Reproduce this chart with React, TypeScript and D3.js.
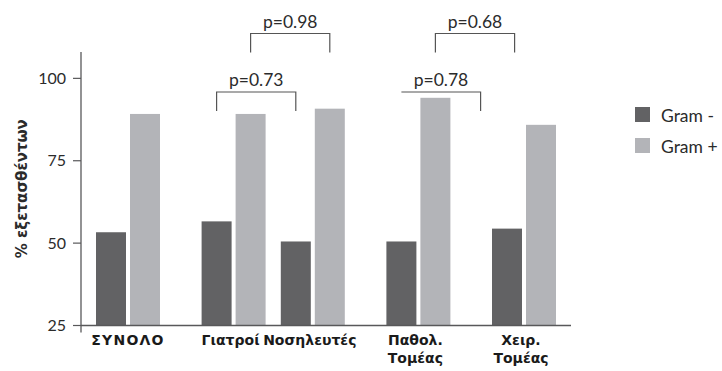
import React from 'react';
import * as d3 from 'd3';

const categories = [['ΣΥΝΟΛΟ'], ['Γιατροί'], ['Νοσηλευτές'], ['Παθολ.', 'Τομέας'], ['Χειρ.', 'Τομέας']];
const series = ['Gram -', 'Gram +'];
const gramNeg = [53.3, 56.6, 50.5, 50.5, 54.4];
const gramPos = [89.2, 89.2, 90.8, 94.1, 85.9];
const yTicks = [25, 50, 75, 100];

// p-value brackets: left end sits on a bar (category index, series index)
const pLabels = ['p=0.73', 'p=0.98', 'p=0.78', 'p=0.68'];
const pFromCategory = [1, 1, 3, 3];
const pFromSeries = [0, 1, 0, 1];
const pLevel = [0, 1, 0, 1];
const pLeftLeg = [true, true, false, true];

const width = 722;
const height = 371;
const colors = ['#626264', '#b3b4b8'];
const axisColor = '#58585a';
const textColor = '#2b2b2b';
const sans = 'Lato, "Open Sans", sans-serif';
const greek = '"DejaVu Sans", "Open Sans", sans-serif';

const App = () => {
  const y = d3.scaleLinear().domain([25, 108]).range([325.5, 52]);

  // groups are not evenly spaced in the original: Γιατροί / Νοσηλευτές sit closer together
  const slotIndex = [0, 4, 7, 11, 15];
  const slot = d3.scaleLinear().domain([0, 15]).range([128, 524]);
  const groupX = (i: number) => slot(slotIndex[i]);

  const inner = d3.scaleBand<number>().domain([0, 1]).range([-32, 32]).paddingInner(4 / 34);
  const bw = inner.bandwidth();
  const values = [gramNeg, gramPos];

  const bracketSpan = groupX(2) - groupX(1);

  return (
    <svg width={width} height={height} style={{ position: 'absolute', left: 0, top: 0, background: '#fff' }}>
      {/* bars */}
      {values.map((vals, s) =>
        vals.map((v, i) => (
          <rect
            key={`${s}-${i}`}
            x={groupX(i) + (inner(s) as number)}
            y={y(v)}
            width={bw}
            height={y(25) - y(v)}
            fill={colors[s]}
          />
        ))
      )}

      {/* y axis */}
      <line x1={81} x2={81} y1={y(108)} y2={y(25) + 7} stroke={axisColor} strokeWidth={1.3} />
      {yTicks.map((t) => (
        <g key={t} transform={`translate(0,${y(t)})`}>
          <line x1={73} x2={81} stroke={axisColor} strokeWidth={1.2} />
          <text x={66} dy="0.35em" textAnchor="end" fontFamily={sans} fontSize={16} fill={textColor}>
            {t}
          </text>
        </g>
      ))}
      <text
        transform={`translate(27,${y(66.5)}) rotate(-90)`}
        textAnchor="middle"
        fontFamily={greek}
        fontWeight="bold"
        fontSize={15}
        fill={textColor}
      >
        % εξετασθέντων
      </text>

      {/* x axis */}
      <line x1={81} x2={571} y1={y(25)} y2={y(25)} stroke={axisColor} strokeWidth={1.3} />
      {categories.map((lines, i) => (
        <text
          key={i}
          textAnchor="middle"
          fontFamily={greek}
          fontWeight="bold"
          fontSize={14}
          letterSpacing={i === 0 ? 1.2 : 0}
          fill="#1a1a1a"
        >
          {lines.map((l, j) => (
            <tspan key={j} x={groupX(i) - (i === 0 ? 0 : 3)} y={345 + j * 18}>
              {l}
            </tspan>
          ))}
        </text>
      ))}

      {/* significance brackets */}
      {pLabels.map((label, k) => {
        const x1 = groupX(pFromCategory[k]) + (inner(pFromSeries[k]) as number) + bw / 2;
        const x2 = x1 + bracketSpan;
        const ly = 92 - pLevel[k] * 58.5;
        const leg = 19;
        const path = pLeftLeg[k]
          ? `M${x1},${ly + leg}V${ly}H${x2}V${ly + leg}`
          : `M${x1},${ly}H${x2}V${ly + leg}`;
        return (
          <g key={label}>
            <path d={path} fill="none" stroke="#555" strokeWidth={1.2} />
            <text x={(x1 + x2) / 2} y={ly - 6} textAnchor="middle" fontFamily={sans} fontSize={17.5} fill={textColor}>
              {label}
            </text>
          </g>
        );
      })}

      {/* legend */}
      {series.map((name, s) => (
        <g key={name} transform={`translate(635,${107 + s * 31})`}>
          <rect width={15} height={15} fill={colors[s]} />
          <text x={26} y={14.5} fontFamily={sans} fontSize={17.5} fill={textColor}>
            {name}
          </text>
        </g>
      ))}
    </svg>
  );
};

export default App;
